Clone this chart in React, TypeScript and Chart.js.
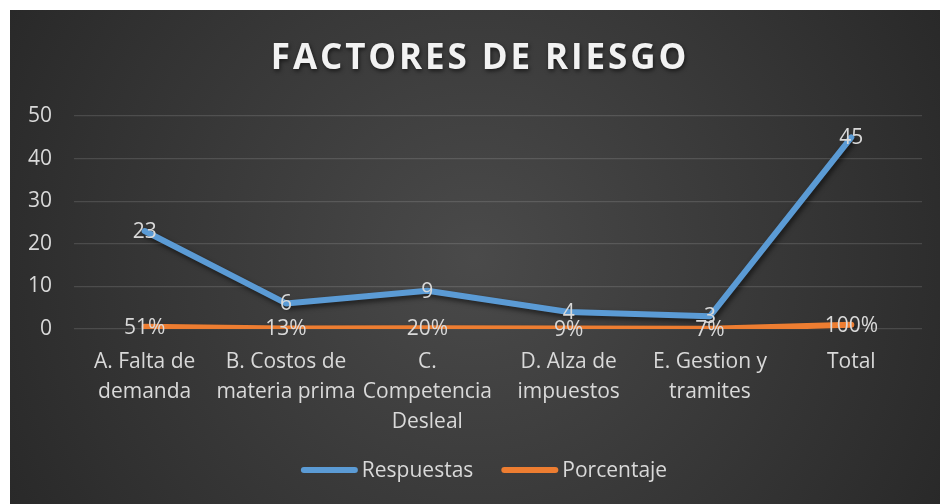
import React, { useEffect, useRef } from "react";
import { Chart, registerables } from "chart.js";

Chart.register(...registerables);

const categories: string[][] = [
  ["A. Falta de", "demanda"],
  ["B. Costos de", "materia prima"],
  ["C.", "Competencia", "Desleal"],
  ["D. Alza de", "impuestos"],
  ["E. Gestion y", "tramites"],
  ["Total"],
];
const respuestas = [23, 6, 9, 4, 3, 45];
const porcentaje = [0.51, 0.13, 0.2, 0.09, 0.07, 1.0];
const porcentajeLabels = ["51%", "13%", "20%", "9%", "7%", "100%"];
const yTicks = [0, 10, 20, 30, 40, 50];
const titleText = "FACTORES DE RIESGO";
const seriesNames = ["Respuestas", "Porcentaje"];
const seriesColors = ["#5b9bd5", "#ed7d31"];

const FONT = "'Open Sans', 'Noto Sans', sans-serif";
const TEXT = "#d9d9d9";

const bgPlugin = {
  id: "bg",
  beforeDraw(chart: any) {
    const { ctx, width, height } = chart;
    ctx.save();
    const g = ctx.createRadialGradient(width / 2, height / 2, 0, width / 2, height / 2, width * 0.62);
    g.addColorStop(0, "#4a4a4a");
    g.addColorStop(1, "#262626");
    ctx.fillStyle = g;
    ctx.fillRect(0, 0, width, height);
    ctx.restore();
  },
};

const titlePlugin = {
  id: "customTitle",
  afterDraw(chart: any) {
    const { ctx, width } = chart;
    ctx.save();
    ctx.font = `bold 35px ${FONT}`;
    (ctx as any).letterSpacing = "2.9px";
    ctx.fillStyle = "#f2f2f2";
    ctx.textAlign = "center";
    ctx.textBaseline = "middle";
    ctx.shadowColor = "rgba(0,0,0,0.6)";
    ctx.shadowBlur = 4;
    ctx.shadowOffsetX = 1;
    ctx.shadowOffsetY = 2;
    ctx.fillText(titleText, width / 2 + 5, 49);
    ctx.restore();
  },
};

const legendPlugin = {
  id: "customLegend",
  afterDraw(chart: any) {
    const { ctx } = chart;
    ctx.save();
    ctx.font = `21px ${FONT}`;
    const lineW = 57;
    const gap = 4;
    const itemGap = 28;
    const widths = seriesNames.map((s) => ctx.measureText(s).width);
    const total = widths.reduce((a, w) => a + lineW + gap + w, 0) + itemGap;
    let x = 474 - total / 2;
    const y = 460;
    ctx.textBaseline = "middle";
    ctx.textAlign = "left";
    seriesNames.forEach((s, i) => {
      ctx.strokeStyle = seriesColors[i];
      ctx.lineWidth = 6;
      ctx.lineCap = "round";
      ctx.beginPath();
      ctx.moveTo(x + 3, y);
      ctx.lineTo(x + lineW - 3, y);
      ctx.stroke();
      ctx.fillStyle = TEXT;
      ctx.fillText(s, x + lineW + gap, y + 1);
      x += lineW + gap + widths[i] + itemGap;
    });
    ctx.restore();
  },
};

const shadowPlugin = {
  id: "lineShadow",
  beforeDatasetDraw(chart: any) {
    const ctx = chart.ctx;
    ctx.save();
    ctx.shadowColor = "rgba(0,0,0,0.55)";
    ctx.shadowBlur = 5;
    ctx.shadowOffsetX = 2;
    ctx.shadowOffsetY = 3;
  },
  afterDatasetDraw(chart: any) {
    chart.ctx.restore();
  },
};

const labelPlugin = {
  id: "dataLabels",
  afterDatasetsDraw(chart: any) {
    const { ctx } = chart;
    ctx.save();
    ctx.font = `21px ${FONT}`;
    ctx.fillStyle = TEXT;
    ctx.textAlign = "center";
    ctx.textBaseline = "middle";
    chart.data.datasets.forEach((ds: any, di: number) => {
      const meta = chart.getDatasetMeta(di);
      meta.data.forEach((pt: any, i: number) => {
        const txt = di === 0 ? String(respuestas[i]) : porcentajeLabels[i];
        ctx.fillText(txt, pt.x, pt.y + 1);
      });
    });
    ctx.restore();
  },
};

export default function App() {
  const ref = useRef<HTMLCanvasElement | null>(null);
  useEffect(() => {
    if (!ref.current) return;
    const chart = new Chart(ref.current, {
      type: "line",
      data: {
        labels: categories as any,
        datasets: [
          {
            label: seriesNames[0],
            data: respuestas,
            borderColor: seriesColors[0],
            backgroundColor: seriesColors[0],
            borderWidth: 6,
            pointRadius: 0,
            borderCapStyle: "round",
            borderJoinStyle: "round",
          },
          {
            label: seriesNames[1],
            data: porcentaje,
            borderColor: seriesColors[1],
            backgroundColor: seriesColors[1],
            borderWidth: 6,
            pointRadius: 0,
            borderCapStyle: "round",
            borderJoinStyle: "round",
          },
        ],
      },
      options: {
        animation: false,
        responsive: true,
        maintainAspectRatio: false,
        layout: { padding: { top: 106, left: 0, right: 18, bottom: 75 } },
        scales: {
          x: {
            offset: true,
            grid: { display: false, drawTicks: false },
            border: { display: false },
            afterFit(scale: any) {
              scale.height = 100;
            },
            ticks: {
              color: TEXT,
              font: { family: FONT, size: 21, lineHeight: 1.42 },
              padding: 18,
              maxRotation: 0,
              autoSkip: false,
            },
          },
          y: {
            min: 0,
            max: 50,
            afterBuildTicks(scale: any) {
              scale.ticks = yTicks.map((v) => ({ value: v }));
            },
            afterFit(scale: any) {
              scale.width = 64;
            },
            grid: { color: "rgba(255,255,255,0.13)", lineWidth: 1.3, drawTicks: false },
            border: { display: false },
            ticks: {
              color: TEXT,
              font: { family: FONT, size: 21 },
              padding: 22,
            },
          },
        },
        plugins: {
          title: { display: false },
          tooltip: { enabled: false },
          legend: { display: false },
        },
      },
      plugins: [bgPlugin, shadowPlugin, labelPlugin, titlePlugin, legendPlugin],
    } as any);
    return () => chart.destroy();
  }, []);
  return (
    <div style={{ position: "fixed", left: 10, top: 10, width: 930, height: 494 }}>
      <canvas ref={ref} />
    </div>
  );
}
